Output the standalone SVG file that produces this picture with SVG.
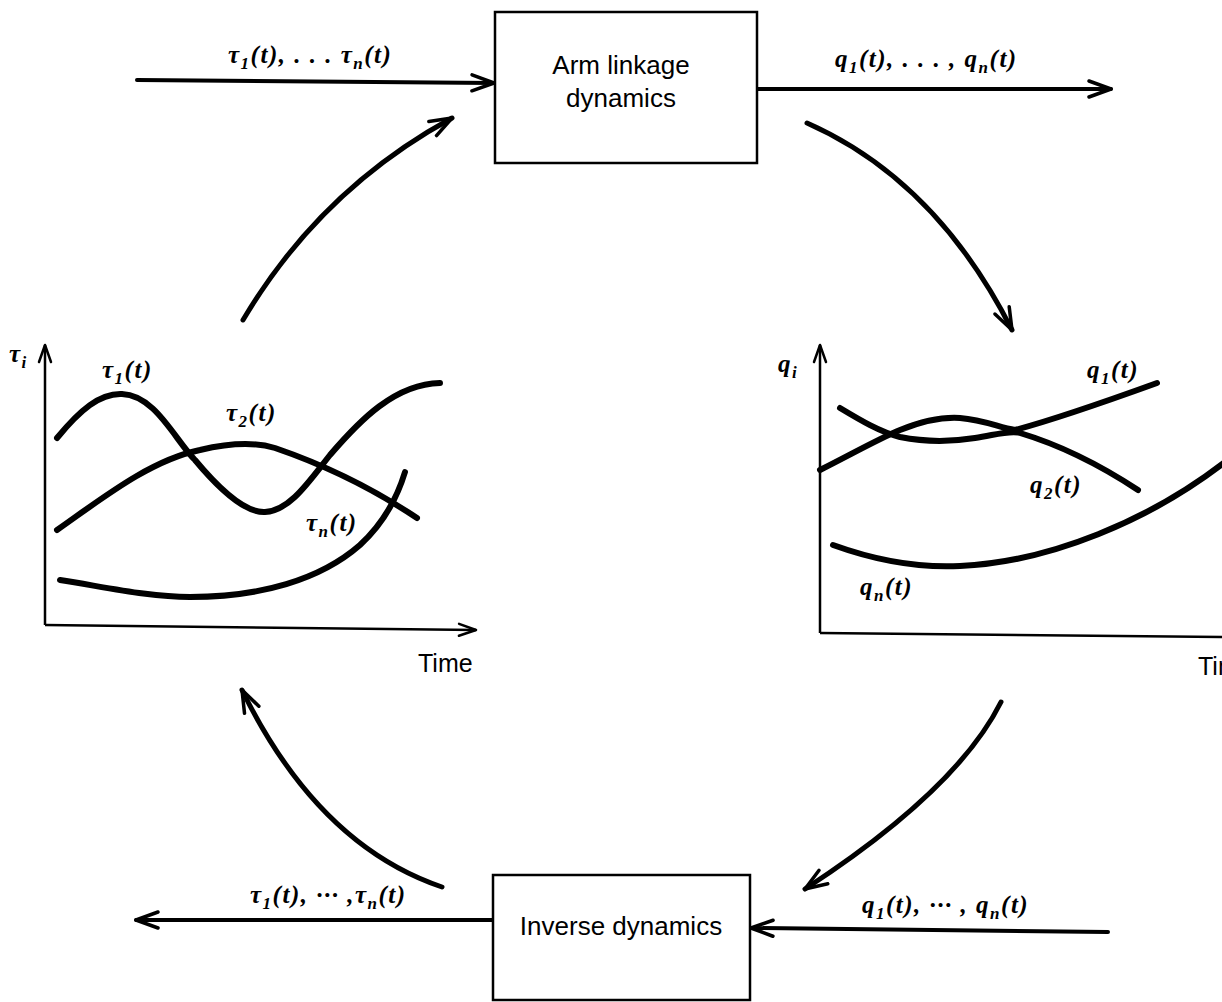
<svg xmlns="http://www.w3.org/2000/svg" width="1222" height="1002" viewBox="0 0 1222 1002">
<style>
.box{fill:#fff;stroke:#000;stroke-width:2.5}
.btxt{font-family:"Liberation Sans",Arial,sans-serif;font-size:26px;fill:#000;text-anchor:middle}
.math{font-family:"Liberation Serif","Times New Roman",serif;font-style:italic;font-weight:bold;font-size:25px;letter-spacing:1.5px;fill:#000}
.sub{font-size:17px}
.flow{fill:none;stroke:#000;stroke-width:4;stroke-linecap:round}
.curve{fill:none;stroke:#000;stroke-width:5;stroke-linecap:round}
.axis{fill:none;stroke:#000;stroke-width:2.5}
.plot{fill:none;stroke:#000;stroke-width:6;stroke-linecap:round}
.time{font-family:"Liberation Sans",Arial,sans-serif;font-size:25px;fill:#000}
</style>
<defs>
<marker id="ah" markerUnits="userSpaceOnUse" markerWidth="30" markerHeight="24" refX="24" refY="10" orient="auto">
<path d="M2,2 L24,10 L2,18" fill="none" stroke="#000" stroke-width="3.5" stroke-linecap="round" stroke-linejoin="round"/>
</marker>
<marker id="ahs" markerUnits="userSpaceOnUse" markerWidth="24" markerHeight="20" refX="19" refY="8" orient="auto">
<path d="M2,2 L19,8 L2,14" fill="none" stroke="#000" stroke-width="2.5" stroke-linecap="round" stroke-linejoin="round"/>
</marker>
</defs>

<g id="connectors">
<path class="flow" d="M137,80 L494,83" marker-end="url(#ah)"/>
<path class="flow" d="M758,89 L1111,89" marker-end="url(#ah)"/>
<path class="flow" d="M492,920 L136,920" marker-end="url(#ah)"/>
<path class="flow" d="M1108,932 L751,928" marker-end="url(#ah)"/>
<path class="curve" d="M243,320 Q320,190 452,118" marker-end="url(#ah)"/>
<path class="curve" d="M807,123 Q936,180 1012,330" marker-end="url(#ah)"/>
<path class="curve" d="M1001,702 Q957,790 805,889" marker-end="url(#ah)"/>
<path class="curve" d="M442,887 Q318,845 242,690" marker-end="url(#ah)"/>
</g>

<g id="node-arm">
<rect class="box" x="495" y="12" width="262" height="151"/>
<text class="btxt" x="621" y="74">Arm linkage</text>
<text class="btxt" x="621" y="107">dynamics</text>
</g>

<g id="node-inverse">
<rect class="box" x="493" y="875" width="257" height="125"/>
<text class="btxt" x="621" y="935">Inverse dynamics</text>
</g>

<g id="labels">
<text class="math" x="228" y="63">τ<tspan class="sub" dy="6">1</tspan><tspan dy="-6">(t), . . . τ</tspan><tspan class="sub" dy="6">n</tspan><tspan dy="-6">(t)</tspan></text>
<text class="math" x="835" y="67">q<tspan class="sub" dy="6">1</tspan><tspan dy="-6">(t), . . . , q</tspan><tspan class="sub" dy="6">n</tspan><tspan dy="-6">(t)</tspan></text>
<text class="math" x="250" y="903">τ<tspan class="sub" dy="6">1</tspan><tspan dy="-6">(t), ··· ,τ</tspan><tspan class="sub" dy="6">n</tspan><tspan dy="-6">(t)</tspan></text>
<text class="math" x="862" y="913">q<tspan class="sub" dy="6">1</tspan><tspan dy="-6">(t), ··· , q</tspan><tspan class="sub" dy="6">n</tspan><tspan dy="-6">(t)</tspan></text>
</g>

<g id="plot-tau">
<path class="axis" d="M45,625 L45,345" marker-end="url(#ahs)"/>
<path class="axis" d="M45,625 L476,630" marker-end="url(#ahs)"/>
<text class="math" x="9" y="362">τ<tspan class="sub" dy="6">i</tspan></text>
<text class="time" x="418" y="672">Time</text>
<path class="plot" d="M57,438 C80,410 100,393 122,394 C155,395 175,440 195,460 C220,490 245,513 265,512 C290,511 310,480 330,455 C360,420 395,384 440,383"/>
<path class="plot" d="M57,530 C100,500 150,460 200,450 C230,443 255,442 275,448 C310,460 360,480 417,518"/>
<path class="plot" d="M60,580 C110,588 150,597 190,597 C260,597 320,580 360,545 C385,522 398,495 405,472"/>
<text class="math" x="102" y="378">τ<tspan class="sub" dy="6">1</tspan><tspan dy="-6">(t)</tspan></text>
<text class="math" x="226" y="421">τ<tspan class="sub" dy="6">2</tspan><tspan dy="-6">(t)</tspan></text>
<text class="math" x="306" y="531">τ<tspan class="sub" dy="6">n</tspan><tspan dy="-6">(t)</tspan></text>
</g>

<g id="plot-q">
<path class="axis" d="M820,633 L820,345" marker-end="url(#ahs)"/>
<path class="axis" d="M820,633 L1222,637"/>
<text class="math" x="778" y="372">q<tspan class="sub" dy="6">i</tspan></text>
<text class="time" x="1198" y="675">Time</text>
<path class="plot" d="M820,470 C850,455 880,438 900,430 C925,420 945,417 960,418 C985,420 1000,428 1015,430 C1060,418 1110,400 1157,383"/>
<path class="plot" d="M840,408 C860,420 880,432 900,437 C925,442 950,442 975,438 C995,435 1010,430 1020,433 C1060,445 1100,465 1138,490"/>
<path class="plot" d="M833,545 C880,562 920,568 960,566 C1050,562 1150,520 1225,462"/>
<text class="math" x="1087" y="378">q<tspan class="sub" dy="6">1</tspan><tspan dy="-6">(t)</tspan></text>
<text class="math" x="1030" y="493">q<tspan class="sub" dy="6">2</tspan><tspan dy="-6">(t)</tspan></text>
<text class="math" x="860" y="595">q<tspan class="sub" dy="6">n</tspan><tspan dy="-6">(t)</tspan></text>
</g>
</svg>
